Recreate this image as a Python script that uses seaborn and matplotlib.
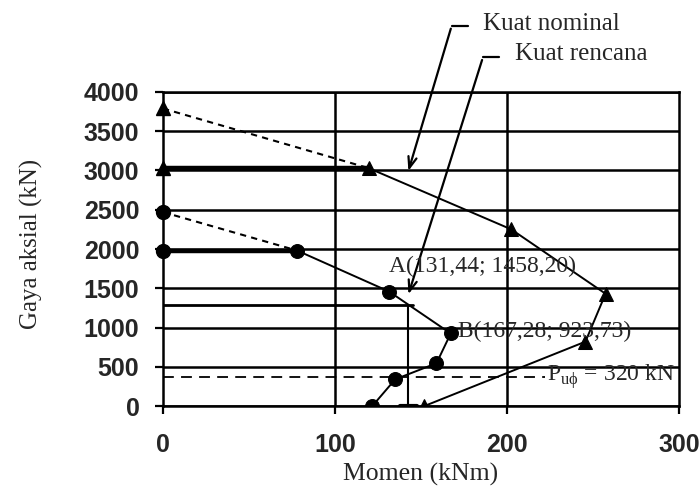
import matplotlib
matplotlib.use("Agg")
import matplotlib.pyplot as plt
import seaborn as sns
import pandas as pd

# ----------------------------------------------------------
# data
# ----------------------------------------------------------
nom_m = [119.6, 202.5, 257.3, 245.6, 152.0]
nom_p = [3030, 2250, 1430, 820, 0]
nom_po = 3790
nom_cap = 3030

ren_m = [78.0, 131.44, 167.28, 159.0, 135.0, 121.7]
ren_p = [1980, 1458.20, 923.73, 545, 340, 0]
ren_po = 2470
ren_cap = 1980

pu_line = 365
m_design = 142.5
p_design = 1290

x_ticks = [0, 100, 200, 300]
y_ticks = [0, 500, 1000, 1500, 2000, 2500, 3000, 3500, 4000]

label_a = "A(131,44; 1458,20)"
label_b = "B(167,28; 923,73)"
label_pu = r"P$_{\mathrm{u\phi}}$ = 320 kN"

# ----------------------------------------------------------
# style
# ----------------------------------------------------------
sns.set_style("white")
serif = ["Liberation Serif", "DejaVu Serif"]
sans = ["Liberation Sans", "DejaVu Sans"]
plt.rcParams["mathtext.fontset"] = "custom"
plt.rcParams["mathtext.rm"] = "Liberation Serif"

fig = plt.figure(figsize=(6.99, 4.87), dpi=100)
ax = fig.add_axes([0.2332, 0.1663, 0.7382, 0.6448])

# grid
for y in y_ticks:
    ax.axhline(y, color="black", lw=1.8, zorder=1)
for x in [100, 200]:
    ax.axvline(x, color="black", lw=1.8, zorder=1)

# ----------------------------------------------------------
# curves
# ----------------------------------------------------------
df_nom = pd.DataFrame({"m": nom_m, "p": nom_p})
df_ren = pd.DataFrame({"m": ren_m, "p": ren_p})

sns.lineplot(data=df_nom, x="m", y="p", sort=False, estimator=None, color="black",
             lw=1.4, marker="^", markersize=10, markeredgecolor="black", ax=ax, zorder=3)
sns.lineplot(data=df_ren, x="m", y="p", sort=False, estimator=None, color="black",
             lw=1.4, marker="o", markersize=10, markeredgecolor="black", ax=ax, zorder=3)

# caps and dashed extensions
ax.plot([0, nom_m[0]], [nom_cap, nom_cap], color="black", lw=3.2, zorder=3)
ax.plot([0, ren_m[0]], [ren_cap, ren_cap], color="black", lw=3.2, zorder=3)
ax.plot([0, nom_m[0]], [nom_po, nom_cap], color="black", lw=1.5, ls=(0, (3, 2.5)), zorder=3)
ax.plot([0, ren_m[0]], [ren_po, ren_cap], color="black", lw=1.5, ls=(0, (3, 2.5)), zorder=3)
ax.plot([0, 0], [nom_po, nom_cap], ls="none", marker="^", markersize=10, color="black",
        clip_on=False, zorder=4)
ax.plot([0, 0], [ren_po, ren_cap], ls="none", marker="o", markersize=10, color="black",
        clip_on=False, zorder=4)

# design point lines
ax.plot([0, 222], [pu_line, pu_line], color="black", lw=1.3, ls=(0, (6, 4)), zorder=2)
ax.plot([m_design, m_design], [0, p_design], color="black", lw=1.5, zorder=2)
ax.plot([0, m_design + 3], [p_design, p_design], color="black", lw=2.0, zorder=2)
ax.plot([m_design - 5, m_design + 5], [0, 0], color="black", lw=3.0, zorder=2)

# labels
ax.text(131.5, 1775, label_a, family=serif, fontsize=17, va="center", ha="left", zorder=5)
ax.text(171.5, 946, label_b, family=serif, fontsize=17, va="center", ha="left", zorder=5)
ax.text(223, 373, label_pu, family=serif, fontsize=17, va="center", ha="left", zorder=5)

# legend arrows
arrow = dict(arrowstyle="->,head_length=0.8,head_width=0.3", color="black", lw=1.6)
ax.annotate("", xy=(142.2, 2960), xytext=(167.8, 4841), arrowprops=arrow, annotation_clip=False)
ax.annotate("", xy=(142.2, 1390), xytext=(186.0, 4442), arrowprops=arrow, annotation_clip=False)
ax.plot([167.8, 177.3], [4841, 4841], color="black", lw=1.6, clip_on=False)
ax.plot([186.0, 195.3], [4442, 4442], color="black", lw=1.6, clip_on=False)
ax.text(186, 4870, "Kuat nominal", family=serif, fontsize=18, va="center", ha="left")
ax.text(204.7, 4490, "Kuat rencana", family=serif, fontsize=18, va="center", ha="left")

# ----------------------------------------------------------
# axes
# ----------------------------------------------------------
ax.set_xlim(0, 300)
ax.set_ylim(0, 4000)
ax.set_xticks(x_ticks)
ax.set_yticks(y_ticks)
ax.set_xticklabels([str(v) for v in x_ticks], family=sans, fontweight="bold", fontsize=18)
ax.set_yticklabels([str(v) for v in y_ticks], family=sans, fontweight="bold", fontsize=18)
ax.tick_params(axis="both", direction="out", length=6, width=1.6, color="black",
               bottom=True, left=True)
ax.tick_params(axis="x", pad=13.5)
ax.tick_params(axis="y", pad=11)
ax.set_xlabel("Momen (kNm)", family=serif, fontsize=18.5)
ax.set_ylabel("Gaya aksial (kN)", family=serif, fontsize=18)
ax.xaxis.set_label_coords(0.5, -0.18)
ax.yaxis.set_label_coords(-0.232, 0.515)
for s in ax.spines.values():
    s.set_color("black")
    s.set_linewidth(1.8)
    s.set_visible(True)

fig.savefig("out.png", dpi=100)
